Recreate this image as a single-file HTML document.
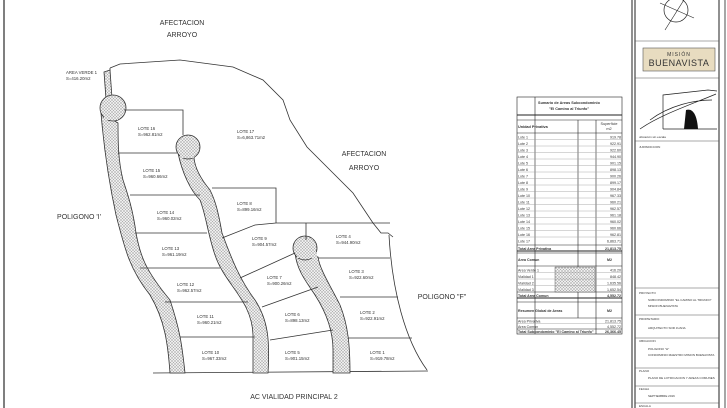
<!DOCTYPE html>
<html><head><meta charset="utf-8"><style>
html,body{margin:0;padding:0;background:#fff;width:727px;height:408px;overflow:hidden}
svg{display:block}
text{font-family:"Liberation Sans",sans-serif;fill:#333}
</style></head><body>
<svg width="727" height="408" viewBox="0 0 727 408" xmlns="http://www.w3.org/2000/svg">
<defs>
<pattern id="dots" width="3" height="3" patternUnits="userSpaceOnUse">
<rect width="3" height="3" fill="#eee"/><circle cx="1" cy="1" r="0.6" fill="#777"/><circle cx="2.5" cy="2.5" r="0.5" fill="#999"/>
</pattern>
</defs>
<rect width="727" height="408" fill="#fff"/>
<!-- left border -->
<line x1="4" y1="0" x2="4" y2="408" stroke="#555" stroke-width="1.5"/>

<g fill="none" stroke="#333" stroke-width="0.8">
<!-- outer boundary -->
<polyline points="110,68 120,64 180,60 233,67 263,80 283,100 290,120 307,147 333,173 353,193 373,223 381,233 388,233 393,237"/>
<path d="M389,235 C392,290 405,340 427,370"/>
<line x1="153" y1="373" x2="428" y2="371"/>
<line x1="110" y1="68" x2="110" y2="100"/>
</g>

<!-- roads -->
<g fill="url(#dots)" stroke="#333" stroke-width="0.8">
<path d="M104,72 L110,70 L112,98 L106,99 Z"/>
<path d="M101,113 C104,150 110,187 116,215 C125,250 130,270 150,295 C165,320 168,345 170,373 L185,373 C182,345 180,330 170,300 C145,270 140,255 136,233 C133,210 128,195 123,180 C118,160 118,140 118,123 Z"/>
<circle cx="113" cy="108" r="13"/>
<path d="M178,153 C182,172 190,190 200,200 C206,215 208,235 215,255 C225,285 252,300 253,335 L253,373 L268,373 C270,340 268,320 255,300 C240,280 232,260 222,233 C218,210 215,200 210,190 C200,178 195,168 194,158 Z"/>
<circle cx="188" cy="147" r="12"/>
<path d="M295,253 C297,270 305,280 315,295 C326,312 333,330 333,350 L333,373 L350,373 C350,345 348,325 340,305 C330,285 320,270 318,257 Z"/>
<circle cx="305" cy="248" r="12"/>
</g>
<!-- cover circles overlap lines -->
<g fill="url(#dots)" stroke="none">
<rect x="104" y="110" width="14" height="10"/>
<rect x="180" y="150" width="14" height="8"/>
<rect x="297" y="252" width="20" height="6"/>
</g>

<!-- lot lines -->
<g stroke="#333" stroke-width="0.8" fill="none">
<polyline points="124,110 183,110 183,135"/>
<line x1="118" y1="153" x2="177" y2="153"/>
<line x1="130" y1="195" x2="200" y2="195"/>
<line x1="135" y1="233" x2="207" y2="233"/>
<line x1="140" y1="268" x2="220" y2="268"/>
<line x1="165" y1="302" x2="248" y2="302"/>
<line x1="180" y1="337" x2="255" y2="337"/>
<polyline points="212,188 276,188 276,223"/>
<polyline points="222,238 255,225 276,223 390,223"/>
<line x1="306" y1="223" x2="306" y2="240"/>
<line x1="240" y1="278" x2="295" y2="253"/>
<line x1="262" y1="307" x2="318" y2="287"/>
<line x1="270" y1="340" x2="333" y2="330"/>
<line x1="318" y1="258" x2="390" y2="258"/>
<line x1="340" y1="297" x2="398" y2="297"/>
<line x1="348" y1="338" x2="412" y2="338"/>
</g>

<!-- big labels -->
<g font-size="7" text-anchor="middle">
<text x="182" y="25">AFECTACION</text>
<text x="182" y="37">ARROYO</text>
<text x="364" y="156">AFECTACION</text>
<text x="364" y="170">ARROYO</text>
<text x="79" y="219">POLIGONO 'I'</text>
<text x="442" y="299">POLIGONO "F"</text>
<text x="294" y="399">AC VIALIDAD PRINCIPAL 2</text>
</g>
<g font-size="4.3" fill="#444">
<text x="66" y="74">AREA VERDE 1</text><text x="66" y="80">S=416.20m2</text>
<text x="138" y="130">LOTE 16</text><text x="138" y="136">S=962.81m2</text>
<text x="237" y="133">LOTE 17</text><text x="237" y="139">S=6,863.71m2</text>
<text x="143" y="172">LOTE 15</text><text x="143" y="178">S=960.66m2</text>
<text x="237" y="205">LOTE 8</text><text x="237" y="211">S=899.16m2</text>
<text x="157" y="214">LOTE 14</text><text x="157" y="220">S=960.02m2</text>
<text x="162" y="250">LOTE 13</text><text x="162" y="256">S=961.19m2</text>
<text x="252" y="240">LOTE 9</text><text x="252" y="246">S=904.57m2</text>
<text x="336" y="238">LOTE 4</text><text x="336" y="244">S=944.90m2</text>
<text x="349" y="273">LOTE 3</text><text x="349" y="279">S=922.60m2</text>
<text x="267" y="279">LOTE 7</text><text x="267" y="285">S=900.26m2</text>
<text x="177" y="286">LOTE 12</text><text x="177" y="292">S=962.57m2</text>
<text x="360" y="314">LOTE 2</text><text x="360" y="320">S=922.91m2</text>
<text x="285" y="316">LOTE 6</text><text x="285" y="322">S=898.13m2</text>
<text x="197" y="318">LOTE 11</text><text x="197" y="324">S=960.21m2</text>
<text x="202" y="354">LOTE 10</text><text x="202" y="360">S=967.33m2</text>
<text x="285" y="354">LOTE 5</text><text x="285" y="360">S=901.15m2</text>
<text x="370" y="354">LOTE 1</text><text x="370" y="360">S=919.78m2</text>
</g>

<!-- table -->
<g stroke="#222" stroke-width="0.6" fill="none">
<rect x="517" y="97" width="105" height="237"/>
<line x1="517" y1="115" x2="622" y2="115" stroke-width="1"/>
<line x1="535" y1="97" x2="535" y2="334"/>
<line x1="578" y1="120" x2="578" y2="318"/>
<line x1="596" y1="120" x2="596" y2="334"/>
<line x1="517" y1="120" x2="622" y2="120"/>
<line x1="517" y1="133" x2="622" y2="133"/>
<line x1="517" y1="245" x2="622" y2="245"/>
<line x1="517" y1="251" x2="622" y2="251" stroke-width="1"/>
<line x1="517" y1="253" x2="622" y2="253"/>
<line x1="517" y1="266" x2="622" y2="266"/>
<line x1="517" y1="292" x2="622" y2="292"/>
<line x1="517" y1="298" x2="622" y2="298" stroke-width="1"/>
<line x1="517" y1="302" x2="622" y2="302"/>
<line x1="517" y1="318" x2="622" y2="318"/>
<line x1="517" y1="329" x2="622" y2="329"/>
</g>
<rect x="555" y="267" width="40" height="25" fill="url(#dots)" stroke="#444" stroke-width="0.4"/>
<g stroke="#999" stroke-width="0.4">
<line x1="517" y1="139.5" x2="622" y2="139.5"/><line x1="517" y1="146" x2="622" y2="146"/><line x1="517" y1="152.5" x2="622" y2="152.5"/><line x1="517" y1="159" x2="622" y2="159"/><line x1="517" y1="165.5" x2="622" y2="165.5"/><line x1="517" y1="172" x2="622" y2="172"/><line x1="517" y1="178.5" x2="622" y2="178.5"/><line x1="517" y1="185" x2="622" y2="185"/><line x1="517" y1="191.5" x2="622" y2="191.5"/><line x1="517" y1="198" x2="622" y2="198"/><line x1="517" y1="204.5" x2="622" y2="204.5"/><line x1="517" y1="211" x2="622" y2="211"/><line x1="517" y1="217.5" x2="622" y2="217.5"/><line x1="517" y1="224" x2="622" y2="224"/><line x1="517" y1="230.5" x2="622" y2="230.5"/><line x1="517" y1="237" x2="622" y2="237"/>
<line x1="517" y1="272.5" x2="622" y2="272.5"/><line x1="517" y1="279" x2="622" y2="279"/><line x1="517" y1="285.5" x2="622" y2="285.5"/><line x1="517" y1="323.5" x2="622" y2="323.5"/>
</g>
<g font-size="3.8" fill="#222">
<text x="569" y="104" text-anchor="middle" font-weight="bold">Sumario de Areas Subcondominio</text>
<text x="569" y="110" text-anchor="middle" font-weight="bold">"El Camino al Triunfo"</text>
<text x="518" y="128" font-weight="bold">Unidad Privativa</text>
<text x="609" y="125" text-anchor="middle">Superficie</text><text x="609" y="130" text-anchor="middle">m2</text>
</g>
<g font-size="3.6" fill="#222">
<text x="518" y="138.5">Lote 1</text><text x="518" y="145">Lote 2</text><text x="518" y="151.5">Lote 3</text><text x="518" y="158">Lote 4</text><text x="518" y="164.5">Lote 5</text><text x="518" y="171">Lote 6</text><text x="518" y="177.5">Lote 7</text><text x="518" y="184">Lote 8</text><text x="518" y="190.5">Lote 9</text><text x="518" y="197">Lote 10</text><text x="518" y="203.5">Lote 11</text><text x="518" y="210">Lote 12</text><text x="518" y="216.5">Lote 13</text><text x="518" y="223">Lote 14</text><text x="518" y="229.5">Lote 15</text><text x="518" y="236">Lote 16</text><text x="518" y="242.5">Lote 17</text>
</g>
<g font-size="3.6" fill="#222" text-anchor="end">
<text x="621" y="138.5">919.78</text><text x="621" y="145">922.91</text><text x="621" y="151.5">922.60</text><text x="621" y="158">944.90</text><text x="621" y="164.5">901.15</text><text x="621" y="171">898.13</text><text x="621" y="177.5">900.26</text><text x="621" y="184">899.17</text><text x="621" y="190.5">904.84</text><text x="621" y="197">967.33</text><text x="621" y="203.5">960.21</text><text x="621" y="210">962.57</text><text x="621" y="216.5">961.18</text><text x="621" y="223">960.02</text><text x="621" y="229.5">960.66</text><text x="621" y="236">962.81</text><text x="621" y="242.5">6,863.71</text>
<text x="621" y="250" font-weight="bold">21,813.75</text>
<text x="612" y="261" font-weight="bold">M2</text>
<text x="621" y="271.5">416.20</text><text x="621" y="278">848.42</text><text x="621" y="284.5">1,635.56</text><text x="621" y="291">1,652.54</text>
<text x="621" y="297" font-weight="bold">4,552.72</text>
<text x="612" y="312" font-weight="bold">M2</text>
<text x="621" y="322.5">21,813.75</text><text x="621" y="328">4,552.72</text>
<text x="621" y="333" font-weight="bold">26,366.45</text>
</g>
<g font-size="3.6" fill="#222">
<text x="518" y="250" font-weight="bold">Total Area Privativa</text>
<text x="518" y="261" font-weight="bold">Area Comun</text>
<text x="518" y="271.5">Area Verde 1</text><text x="518" y="278">Vialidad 1</text><text x="518" y="284.5">Vialidad 2</text><text x="518" y="291">Vialidad 3</text>
<text x="518" y="297" font-weight="bold">Total Area Comun</text>
<text x="518" y="312" font-weight="bold">Resumen Global de Areas</text>
<text x="518" y="322.5">Area Privativa</text><text x="518" y="328">Area Comun</text>
<text x="518" y="333" font-weight="bold">Total Subcondominio "El Camino al Triunfo"</text>
</g>

<!-- title block -->
<g stroke="#222" fill="none">
<line x1="632" y1="0" x2="632" y2="408" stroke-width="1"/>
<line x1="635" y1="0" x2="635" y2="408" stroke-width="1"/>
<line x1="719" y1="0" x2="719" y2="408" stroke-width="1"/>
<line x1="725" y1="0" x2="725" y2="408" stroke-width="0.8"/>
<g stroke-width="0.6" stroke="#555">
<line x1="635" y1="41" x2="719" y2="41"/><line x1="635" y1="78" x2="719" y2="78"/><line x1="635" y1="141" x2="719" y2="141"/>
<line x1="635" y1="288" x2="719" y2="288"/><line x1="635" y1="315" x2="719" y2="315"/><line x1="635" y1="338" x2="719" y2="338"/><line x1="635" y1="368" x2="719" y2="368"/><line x1="635" y1="386" x2="719" y2="386"/><line x1="635" y1="403" x2="719" y2="403"/>
</g>
<!-- north arrow -->
<circle cx="676" cy="10" r="12" stroke-width="0.7"/>
<line x1="665" y1="30" x2="687" y2="-5" stroke-width="0.6"/>
<line x1="660" y1="3" x2="694" y2="18" stroke-width="0.6"/>
<!-- logo -->
<rect x="643" y="48" width="72" height="23" fill="#e8dcc0" stroke="#555" stroke-width="0.6"/>
<!-- location sketch -->
<polyline points="663,129 663,95 708,90 717,91" stroke-width="0.7"/>
<path d="M640,129 C660,115 690,105 716,94 M650,120 C670,105 695,100 712,100 M663,129 L717,129" stroke-width="0.7"/>
<path d="M686,110 C693,108 697,115 698,129 L684,129 Z" fill="#111" stroke="none"/>
</g>
<g font-size="6" text-anchor="middle" fill="#333">
<text x="679" y="56" font-size="5" letter-spacing="1">MISIÓN</text>
<text x="679" y="66" font-size="9" font-family="Liberation Serif,serif" fill="#333" letter-spacing="0.5">BUENAVISTA</text>
</g>
<g font-size="3" fill="#666">
<text x="639" y="138">ubicación sin escala</text>
<text x="639" y="148">JURISDICCION</text>
<text x="639" y="294">PROYECTO</text><text x="648" y="301">SUBCONDOMINIO "EL CAMINO AL TRIUNFO"</text><text x="648" y="307">MISION BUENAVISTA</text>
<text x="639" y="320">PROPIETARIO</text><text x="648" y="329">ARQUITECTO SOR JUANA</text>
<text x="639" y="342">UBICACION</text><text x="648" y="350">POLIGONO "H"</text><text x="648" y="356">CONDOMINIO MAESTRO MISION BUENAVISTA</text>
<text x="639" y="372">PLANO</text><text x="648" y="379">PLANO DE LOTIFICACION Y AREAS COMUNES</text>
<text x="639" y="390">FECHA</text><text x="648" y="397">SEPTIEMBRE 2016</text>
<text x="639" y="407">ESCALA</text>
</g>
</svg>
</body></html>
